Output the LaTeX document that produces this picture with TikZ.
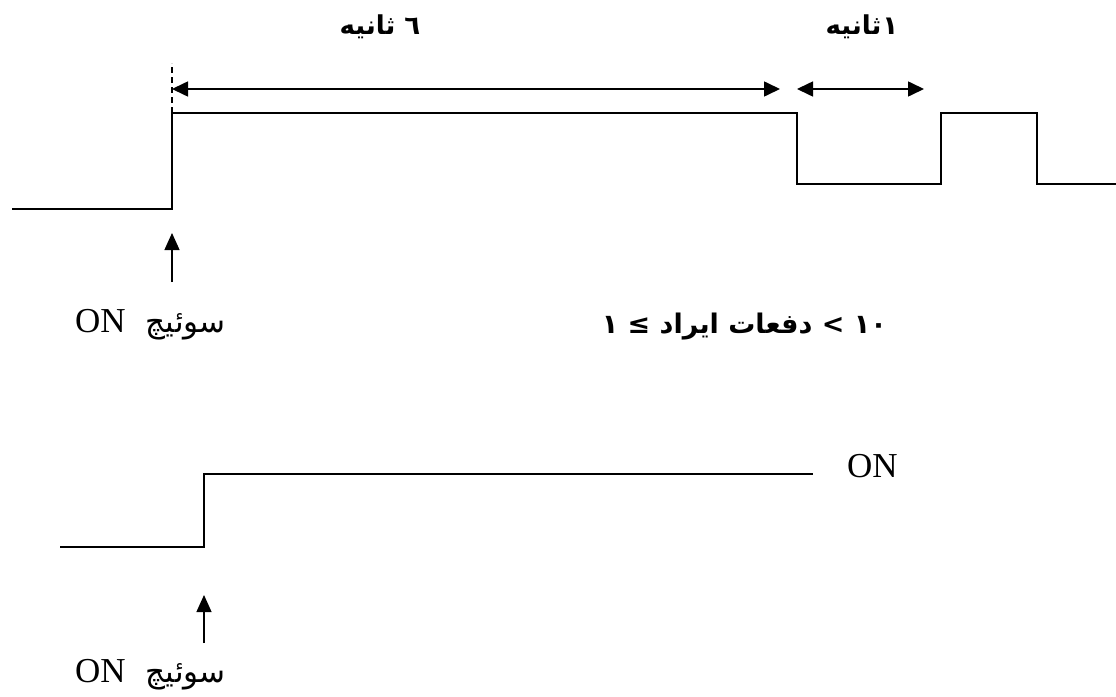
\documentclass[tikz,border=0pt]{standalone}
\usepackage{fontspec}
\setmainfont{Liberation Serif}
\newfontfamily\arabicfont[Script=Arabic]{DejaVu Sans}
\newfontfamily\symfont{DejaVu Sans}
\TeXXeTstate=1
\usetikzlibrary{arrows.meta,positioning}
\tikzset{
    signal/.style = {
        line width=1.6pt,
        line join=miter,
        },
    span/.style = {
        line width=1.6pt,
        {Triangle[length=16pt,width=15pt]}-{Triangle[length=16pt,width=15pt]},
        },
    trigger/.style = {
        line width=1.3pt,
        -{Triangle[length=17pt,width=15pt]},
        },
    marker/.style = {
        line width=1.2pt,
        dash pattern=on 6pt off 4pt,
        },
    persian title/.style = {
        font=\arabicfont\bfseries\fontsize{26}{30}\selectfont,
        inner sep=0pt,
        },
    count text/.style = {
        font=\arabicfont\bfseries\fontsize{27}{31}\selectfont,
        inner sep=0pt,
        anchor=base east,
        },
    switch label/.style = {
        font=\fontsize{35}{40}\selectfont,
        inner sep=0pt,
        anchor=base west,
        },
}
\newcommand{\switchword}{\beginR{\arabicfont\fontsize{31}{35}\selectfont سوئیچ}\endR}
\begin{document}
\begin{tikzpicture}[x=1pt, y=-1pt]
    \useasboundingbox (0,0) rectangle (1116,696);

    % Signal 1
    \coordinate (a0) at (12,209);
    \coordinate (a1) at (172,209);
    \coordinate (a2) at (172,113);
    \coordinate (a3) at (797,113);
    \coordinate (a4) at (797,184);
    \coordinate (a5) at (941,184);
    \coordinate (a6) at (941,113);
    \coordinate (a7) at (1037,113);
    \coordinate (a8) at (1037,184);
    \coordinate (a9) at (1116,184);
    \draw[signal] (a0) -- (a1) -- (a2) -- (a3) -- (a4) -- (a5) -- (a6) -- (a7) -- (a8) -- (a9);

    \coordinate (m1) at (172,63);
    \draw[marker] (a2) -- (m1);

    \coordinate (s1a) at (172,89);
    \coordinate (s1b) at (780,89);
    \coordinate (s2a) at (797,89);
    \coordinate (s2b) at (924,89);
    \draw[span] (s1a) -- (s1b);
    \draw[span] (s2a) -- (s2b);

    \node[persian title] (t6) at (380,27) {\beginR ٦ ثانیه\endR};
    \node[persian title] (t1) at (862,27) {\beginR ١\kern1pt ثانیه\endR};

    \coordinate (u1a) at (172,282);
    \coordinate (u1b) at (172,233);
    \draw[trigger] (u1a) -- (u1b);

    \node[switch label] (sw1) at (75,332) {ON\hspace{20pt}\switchword};
    \node[count text] (cnt) at (887,333) {\beginR\beginL١٠\endL\ {\symfont <} دفعات ایراد {\symfont ≤} ١\endR};

    % Signal 2
    \coordinate (b0) at (60,547);
    \coordinate (b1) at (204,547);
    \coordinate (b2) at (204,474);
    \coordinate (b3) at (813,474);
    \draw[signal] (b0) -- (b1) -- (b2) -- (b3);

    \node[switch label] (on2) at (847,477) {ON};

    \coordinate (u2a) at (204,643);
    \coordinate (u2b) at (204,595);
    \draw[trigger] (u2a) -- (u2b);

    \node[switch label] (sw2) at (75,682) {ON\hspace{20pt}\switchword};
\end{tikzpicture}
\end{document}
